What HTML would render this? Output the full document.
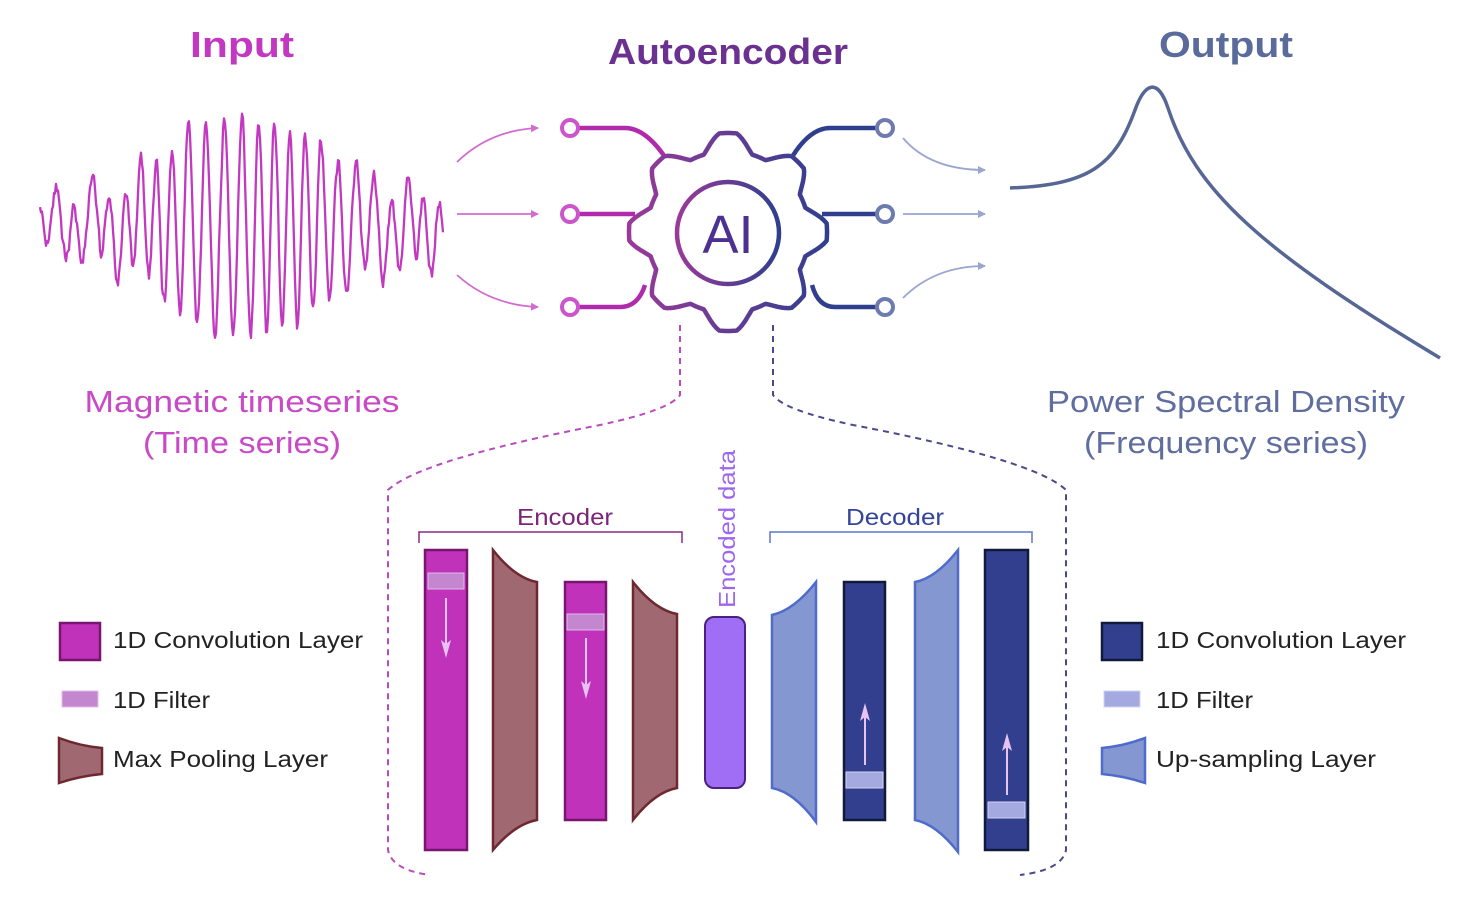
<!DOCTYPE html>
<html><head><meta charset="utf-8"><style>
html,body{margin:0;padding:0;background:#fff}
svg{display:block}
text{font-family:"Liberation Sans","DejaVu Sans",sans-serif}
</style></head><body>
<svg id="s" width="1482" height="907" viewBox="0 0 1482 907" xmlns="http://www.w3.org/2000/svg">
<defs>
<linearGradient id="gg" x1="0" x2="1" y1="0" y2="0"><stop offset="0" stop-color="#9a3a98"/><stop offset="1" stop-color="#2f3f8e"/></linearGradient>
<marker id="am" markerWidth="8" markerHeight="8" refX="7" refY="4" orient="auto" markerUnits="userSpaceOnUse"><path d="M0,0 L8,4 L0,8 z" fill="#d36cd0"/></marker>
<marker id="ab" markerWidth="8" markerHeight="8" refX="7" refY="4" orient="auto" markerUnits="userSpaceOnUse"><path d="M0,0 L8,4 L0,8 z" fill="#9aa5d0"/></marker>
</defs>
<g lengthAdjust="spacingAndGlyphs">
<text x="242" y="57" font-size="36" font-weight="bold" fill="#c238c0" text-anchor="middle" textLength="104" lengthAdjust="spacingAndGlyphs">Input</text>
<text x="728" y="64" font-size="36" font-weight="bold" fill="#6a3190" text-anchor="middle" textLength="240" lengthAdjust="spacingAndGlyphs">Autoencoder</text>
<text x="1226" y="57" font-size="36" font-weight="bold" fill="#5a6a9a" text-anchor="middle" textLength="134" lengthAdjust="spacingAndGlyphs">Output</text>
<text x="242" y="412" font-size="31" fill="#c84ac6" text-anchor="middle" textLength="315" lengthAdjust="spacingAndGlyphs">Magnetic timeseries</text>
<text x="242" y="453" font-size="31" fill="#c84ac6" text-anchor="middle" textLength="198" lengthAdjust="spacingAndGlyphs">(Time series)</text>
<text x="1226" y="412" font-size="31" fill="#5f6e9e" text-anchor="middle" textLength="358" lengthAdjust="spacingAndGlyphs">Power Spectral Density</text>
<text x="1226" y="453" font-size="31" fill="#5f6e9e" text-anchor="middle" textLength="284" lengthAdjust="spacingAndGlyphs">(Frequency series)</text>
</g>
<path id="sig" d="" fill="none" stroke="#c238c0" stroke-width="2.3" stroke-linejoin="round"/>
<path d="M1010,188 C1090,185 1115,165 1135,110 C1145,82 1158,78 1168,108 C1195,190 1260,250 1440,358" fill="none" stroke="#566796" stroke-width="3.5"/>
<g fill="none" stroke="#d36cd0" stroke-width="1.8">
<path d="M457,162 Q490,130 538,128" marker-end="url(#am)"/>
<path d="M457,214 L538,214" marker-end="url(#am)"/>
<path d="M457,275 Q490,305 538,307" marker-end="url(#am)"/>
</g>
<g fill="none" stroke="#9aa5d0" stroke-width="1.8">
<path d="M903,138 Q930,170 985,170" marker-end="url(#ab)"/>
<path d="M903,214 L985,214" marker-end="url(#ab)"/>
<path d="M903,298 Q935,266 985,266" marker-end="url(#ab)"/>
</g>
<g fill="none" stroke-width="4.5">
<path d="M578,128 H625 Q645,128 665,157" stroke="#b02aac"/>
<path d="M578,214 H635" stroke="#b02aac"/>
<path d="M578,307 H620 Q638,307 645,285" stroke="#b02aac"/>
<path d="M877,128 H830 Q810,128 792,157" stroke="#2f3f8e"/>
<path d="M877,214 H822" stroke="#2f3f8e"/>
<path d="M877,307 H835 Q818,307 812,285" stroke="#2f3f8e"/>
</g>
<g fill="#fff" stroke-width="4">
<circle cx="570" cy="128" r="8" stroke="#cd55cb"/><circle cx="570" cy="214" r="8" stroke="#cd55cb"/><circle cx="570" cy="307" r="8" stroke="#cd55cb"/>
<circle cx="885" cy="128" r="8" stroke="#6e7bb0"/><circle cx="885" cy="214" r="8" stroke="#6e7bb0"/><circle cx="885" cy="307" r="8" stroke="#6e7bb0"/>
</g>
<path id="gear" d="" fill="#fff" stroke="url(#gg)" stroke-width="4.5"/>
<circle cx="728" cy="233" r="51" fill="none" stroke="url(#gg)" stroke-width="4.5"/>
<text x="728" y="253" font-size="54" fill="#4d3190" text-anchor="middle" font-family="Liberation Serif,serif">AI</text>
<g fill="none" stroke-width="2" stroke-dasharray="6,5">
<path d="M680,325 V395 Q670,410 600,425 Q420,460 388,490 V850 Q392,870 430,875" stroke="#b84cba"/>
<path d="M773,325 V395 Q783,410 853,425 Q1035,460 1066,490 V850 Q1062,870 1020,875" stroke="#4a4a8a"/>
</g>
<text x="565" y="525" font-size="23" fill="#7b2478" text-anchor="middle" textLength="96" lengthAdjust="spacingAndGlyphs">Encoder</text>
<path d="M419,543 V532 H682 V543" fill="none" stroke="#8a2a86" stroke-width="1.5"/>
<text x="895" y="525" font-size="23" fill="#34449a" text-anchor="middle" textLength="98" lengthAdjust="spacingAndGlyphs">Decoder</text>
<path d="M770,543 V532 H1032 V543" fill="none" stroke="#5a78c8" stroke-width="1.5"/>
<text transform="translate(735,608) rotate(-90)" font-size="23" fill="#9e66ee" textLength="158" lengthAdjust="spacingAndGlyphs">Encoded data</text>
<rect x="425" y="550" width="42" height="300" fill="#c032ba" stroke="#78156f" stroke-width="2.5"/>
<rect x="428" y="573" width="36" height="16" fill="#c487cf" stroke="#e0b8e8" stroke-width="1"/>
<line x1="446" y1="598" x2="446" y2="645" stroke="#e6c3f0" stroke-width="2"/>
<path d="M441,640 L446,658 L451,640 L446,644 Z" fill="#e6c3f0"/>
<path d="M493,550 Q515,578 537,582 V820 Q515,824 493,850 Z" fill="#a06870" stroke="#6e2830" stroke-width="2.5"/>
<rect x="565" y="582" width="41" height="238" fill="#c032ba" stroke="#78156f" stroke-width="2.5"/>
<rect x="567" y="614" width="37" height="16" fill="#c487cf" stroke="#e0b8e8" stroke-width="1"/>
<line x1="586" y1="638" x2="586" y2="686" stroke="#e6c3f0" stroke-width="2"/>
<path d="M581,681 L586,699 L591,681 L586,685 Z" fill="#e6c3f0"/>
<path d="M633,582 Q655,610 677,614 V788 Q655,792 633,820 Z" fill="#a06870" stroke="#6e2830" stroke-width="2.5"/>
<rect x="705" y="617" width="40" height="171" rx="9" fill="#a06ef4" stroke="#4a2180" stroke-width="2"/>
<path d="M816,582 Q794,610 772,615 V788 Q794,792 816,822 Z" fill="#8497d0" stroke="#4f6ccc" stroke-width="2.5"/>
<rect x="844" y="582" width="41" height="238" fill="#323e8e" stroke="#121a3c" stroke-width="2.5"/>
<rect x="846" y="772" width="37" height="16" fill="#a4a9e0" stroke="#d0d4f0" stroke-width="1"/>
<line x1="865" y1="765" x2="865" y2="716" stroke="#e6c3f0" stroke-width="2"/>
<path d="M860,721 L865,703 L870,721 L865,717 Z" fill="#e6c3f0"/>
<path d="M958,550 Q936,578 915,582 V820 Q936,824 958,852 Z" fill="#8497d0" stroke="#4f6ccc" stroke-width="2.5"/>
<rect x="985" y="550" width="43" height="300" fill="#323e8e" stroke="#121a3c" stroke-width="2.5"/>
<rect x="988" y="802" width="37" height="16" fill="#a4a9e0" stroke="#d0d4f0" stroke-width="1"/>
<line x1="1007" y1="795" x2="1007" y2="746" stroke="#e6c3f0" stroke-width="2"/>
<path d="M1002,751 L1007,733 L1012,751 L1007,747 Z" fill="#e6c3f0"/>
<rect x="60" y="623" width="40" height="37" fill="#c032ba" stroke="#78156f" stroke-width="2.5"/>
<text x="113" y="648" font-size="23" fill="#222" textLength="250" lengthAdjust="spacingAndGlyphs">1D Convolution Layer</text>
<rect x="62" y="691" width="36" height="16" fill="#c487cf" stroke="#e0b8e8"/>
<text x="113" y="708" font-size="23" fill="#222" textLength="97" lengthAdjust="spacingAndGlyphs">1D Filter</text>
<path d="M59,738 Q80,746 102,748 V774 Q80,776 59,783 Z" fill="#a06870" stroke="#6e2830" stroke-width="2.5"/>
<text x="113" y="767" font-size="23" fill="#222" textLength="215" lengthAdjust="spacingAndGlyphs">Max Pooling Layer</text>
<rect x="1102" y="623" width="40" height="37" fill="#323e8e" stroke="#121a3c" stroke-width="2.5"/>
<text x="1156" y="648" font-size="23" fill="#222" textLength="250" lengthAdjust="spacingAndGlyphs">1D Convolution Layer</text>
<rect x="1104" y="691" width="36" height="16" fill="#a4a9e0" stroke="#d0d4f0"/>
<text x="1156" y="708" font-size="23" fill="#222" textLength="97" lengthAdjust="spacingAndGlyphs">1D Filter</text>
<path d="M1145,738 Q1124,746 1102,748 V774 Q1124,776 1145,783 Z" fill="#8497d0" stroke="#4f6ccc" stroke-width="2.5"/>
<text x="1156" y="767" font-size="23" fill="#222" textLength="220" lengthAdjust="spacingAndGlyphs">Up-sampling Layer</text>
</svg>
<script>
(function(){
var seed=11;function rnd(){seed=(seed*16807)%2147483647;return seed/2147483647-0.5;}
var d="",n=0,n2=0;
for(var x=40;x<=443;x+=1){
 var t=(x-40)/403;
 var env=30+85*Math.exp(-Math.pow((t-0.55)/0.25,2))+25*Math.exp(-Math.pow((t-0.38)/0.12,2));
 var ph=(x-40)*2*Math.PI/16.6+1.2+Math.sin(x/23)*0.8;
 var v=Math.sin(ph)*env*0.9;
 v+=Math.sin((x-40)*2*Math.PI/45)*18*(1-Math.exp(-Math.pow((t-0.55)/0.25,2)));
 n=0.5*n+rnd()*12; n2=0.9*n2+rnd()*3; v+=n+n2*2;
 var y=226-v;
 d+=(x==40?"M":"L")+x+","+y.toFixed(1);
}
document.getElementById("sig").setAttribute("d",d);
var cx=728,cy=232,g="";
for(var i=0;i<=720;i++){
 var a=i/720*2*Math.PI;
 var c=Math.cos(8*a);
 var k=Math.max(-1,Math.min(1,c*1.3));
 var r=90+9*k;
 var x=cx+r*Math.sin(a),y=cy-r*Math.cos(a);
 g+=(i==0?"M":"L")+x.toFixed(1)+","+y.toFixed(1);
}
document.getElementById("gear").setAttribute("d",g+"Z");
})();
</script>
</body></html>
